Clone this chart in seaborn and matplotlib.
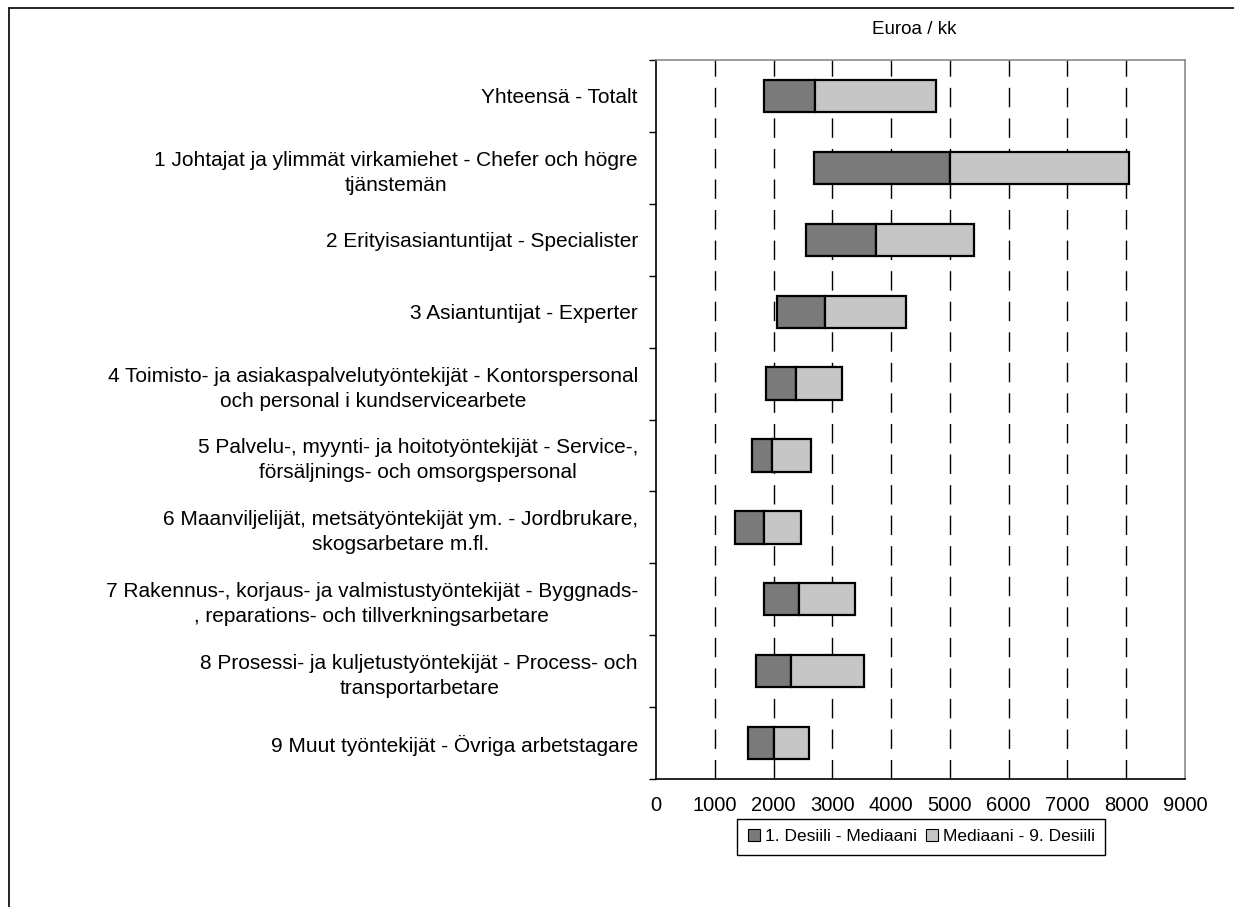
import numpy as np
import pandas as pd
import matplotlib
matplotlib.use("Agg")
import matplotlib.pyplot as plt
from matplotlib.patches import Patch
from matplotlib.lines import Line2D
import seaborn as sns

# Occupation groups (Finnish - Swedish)
labels = [
    "Yhteensä - Totalt",
    "1 Johtajat ja ylimmät virkamiehet - Chefer och högre\ntjänstemän",
    "2 Erityisasiantuntijat - Specialister",
    "3 Asiantuntijat - Experter",
    "4 Toimisto- ja asiakaspalvelutyöntekijät - Kontorspersonal\noch personal i kundservicearbete",
    "5 Palvelu-, myynti- ja hoitotyöntekijät - Service-,\nförsäljnings- och omsorgspersonal",
    "6 Maanviljelijät, metsätyöntekijät ym. - Jordbrukare,\nskogsarbetare m.fl.",
    "7 Rakennus-, korjaus- ja valmistustyöntekijät - Byggnads-\n, reparations- och tillverkningsarbetare",
    "8 Prosessi- ja kuljetustyöntekijät - Process- och\ntransportarbetare",
    "9 Muut työntekijät - Övriga arbetstagare",
]

# Euro / month
decile1 = [1830, 2690, 2560, 2060, 1880, 1640, 1350, 1840, 1700, 1570]
median = [2700, 5000, 3750, 2880, 2390, 1970, 1830, 2440, 2290, 2000]
decile9 = [4760, 8050, 5410, 4260, 3170, 2630, 2460, 3380, 3540, 2610]

x_ticks = [0, 1000, 2000, 3000, 4000, 5000, 6000, 7000, 8000, 9000]
grid_vals = [1000, 2000, 3000, 4000, 5000, 6000, 7000, 8000]

legend_labels = ["1. Desiili - Mediaani", "Mediaani - 9. Desiili"]
title = "Euroa / kk"

dark = "#7a7a7a"
light = "#c6c6c6"

sns.set_theme(style="white")
plt.rcParams["font.family"] = ["Liberation Sans", "DejaVu Sans"]
plt.rcParams["text.color"] = "black"
plt.rcParams["xtick.color"] = "black"
plt.rcParams["ytick.color"] = "black"

df = pd.DataFrame({
    "label": labels,
    "d1": decile1,
    "med": median,
    "d9": decile9,
})
df["low"] = df["med"] - df["d1"]
df["high"] = df["d9"] - df["med"]

fig, ax = plt.subplots(figsize=(12.34, 9.07), dpi=100)
fig.subplots_adjust(left=0.5316, right=0.9603, top=0.9338, bottom=0.1411)

# dashed vertical gridlines behind the bars
ax.vlines(grid_vals, 0, 1, transform=ax.get_xaxis_transform(),
          colors="black", linestyles=(0, (14, 8)), linewidth=1, zorder=0)

# lower segment: 1st decile -> median
sns.barplot(data=df, x="low", y="label", color=dark, saturation=1,
            width=0.45, edgecolor="black", linewidth=1.6, errorbar=None,
            orient="h", ax=ax, zorder=2)
n = len(df)
for patch, start in zip(ax.patches[:n], df["d1"]):
    patch.set_x(start)

# upper segment: median -> 9th decile
sns.barplot(data=df, x="high", y="label", color=light, saturation=1,
            width=0.45, edgecolor="black", linewidth=1.6, errorbar=None,
            orient="h", ax=ax, zorder=2)
for patch, start in zip(ax.patches[n:2 * n], df["med"]):
    patch.set_x(start)

ax.set_xlim(0, 9000)
ax.set_xticks(x_ticks)
ax.set_xticklabels([str(v) for v in x_ticks])
ax.set_xlabel("")
ax.set_ylabel("")

ax.tick_params(axis="x", which="major", direction="inout", length=9,
               width=1, color="black", labelcolor="black", labelsize=14.5,
               pad=8)
ax.tick_params(axis="y", which="major", length=0, labelsize=15,
               labelcolor="black", pad=13)
ax.set_yticks(np.arange(-0.5, n, 1), minor=True)
ax.tick_params(axis="y", which="minor", direction="out", length=5,
               width=1, color="black", left=True)
for t in ax.get_yticklabels():
    t.set_multialignment("center")
    t.set_linespacing(1.4)

for side in ["left", "bottom"]:
    ax.spines[side].set_color("black")
    ax.spines[side].set_linewidth(1.2)
for side in ["top", "right"]:
    ax.spines[side].set_color("#8a8a8a")
    ax.spines[side].set_linewidth(1.2)

fig.text(0.7407, 0.967, title, ha="center", va="center", fontsize=13.5,
         color="black")

handles = [Patch(facecolor=dark, edgecolor="black", linewidth=0.8),
           Patch(facecolor=light, edgecolor="black", linewidth=0.8)]
leg = fig.legend(handles, legend_labels, loc="center",
                 bbox_to_anchor=(0.7466, 0.0777), ncol=2, fontsize=12.5,
                 frameon=True, fancybox=False, framealpha=1,
                 handlelength=0.7, handleheight=0.7, handletextpad=0.3,
                 columnspacing=0.5, borderpad=0.6)
leg.get_frame().set_edgecolor("black")
leg.get_frame().set_linewidth(1)
for t in leg.get_texts():
    t.set_color("black")

# outer border of the scanned chart (top and left edges)
fig.add_artist(Line2D([9 / 1234, 1.0], [1 - 8 / 907, 1 - 8 / 907],
                      transform=fig.transFigure, color="black", lw=1.2))
fig.add_artist(Line2D([9 / 1234, 9 / 1234], [0.0, 1 - 8 / 907],
                      transform=fig.transFigure, color="black", lw=1.2))

fig.savefig("out.png", dpi=100, facecolor="white")
